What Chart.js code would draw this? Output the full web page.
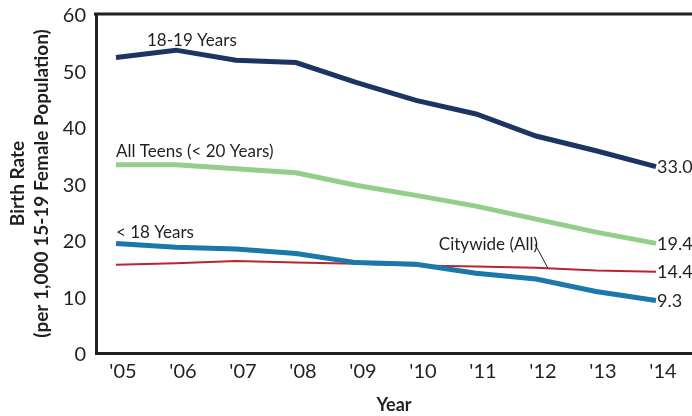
<!DOCTYPE html>
<html>
<head>
<meta charset="utf-8">
<script src="https://cdn.jsdelivr.net/npm/chart.js@4.4.7/dist/chart.umd.min.js"></script>
<style>
  html, body { margin: 0; padding: 0; background: #fff; }
  #wrap { width: 692px; height: 416px; position: relative; }
</style>
</head>
<body>
<div id="wrap"><canvas id="chart"></canvas></div>
<script>
// Teen birth rates per 1,000 females aged 15-19
const years = [2005, 2006, 2007, 2008, 2009, 2010, 2011, 2012, 2013, 2014];
const yTicks = [0, 10, 20, 30, 40, 50, 60];
const age1819 = [52.3, 53.6, 51.8, 51.4, 47.9, 44.7, 42.3, 38.4, 35.8, 33.0];
const allTeens = [33.3, 33.3, 32.6, 31.9, 29.7, 27.9, 26.0, 23.7, 21.4, 19.4];
const under18 = [19.4, 18.7, 18.4, 17.6, 16.0, 15.7, 14.1, 13.1, 10.9, 9.3];
const citywide = [15.6, 15.9, 16.3, 16.0, 15.8, 15.5, 15.3, 15.1, 14.6, 14.4];

const txt = '#231f20';
const fontFam = "Lato, 'Open Sans', sans-serif";

const toPts = arr => arr.map((v, i) => ({ x: years[i], y: v }));

// series name labels: [dataset index, point index, dx, dy, text]
const nameLabels = [
    [0, 0, 31, -17, '18-19 Years'],
    [1, 0, 0, -13, 'All Teens (< 20 Years)'],
    [2, 0, 0, -11, '< 18 Years'],
];

const annotate = {
    id: 'annotate',
    afterDraw(chart) {
        const ctx = chart.ctx;
        const area = chart.chartArea;
        const xs = chart.scales.x, ys = chart.scales.y;
        ctx.save();
        // top frame line
        ctx.fillStyle = '#231f20';
        ctx.fillRect(area.left - 2, area.top - 1.5, area.right - area.left + 2, 3);

        ctx.fillStyle = txt;
        ctx.font = '17px ' + fontFam;
        ctx.textBaseline = 'middle';
        ctx.textAlign = 'left';
        nameLabels.forEach(([d, i, dx, dy, t]) => {
            const data = chart.data.datasets[d].data;
            ctx.fillText(t, xs.getPixelForValue(data[i].x) + dx, ys.getPixelForValue(data[i].y) + dy);
        });

        // Citywide label with leader line
        const cx = xs.getPixelForValue(2012.2);
        const cy = ys.getPixelForValue(15.0);
        ctx.textAlign = 'right';
        ctx.fillText('Citywide (All)', cx - 10, cy - 24);
        ctx.strokeStyle = txt;
        ctx.lineWidth = 1;
        ctx.beginPath();
        ctx.moveTo(cx - 13, cy - 24);
        ctx.lineTo(cx, cy);
        ctx.stroke();

        // end values
        ctx.textAlign = 'left';
        ctx.font = '18px ' + fontFam;
        chart.data.datasets.forEach(ds => {
            const last = ds.data[ds.data.length - 1];
            ctx.fillText(last.y.toFixed(1), xs.getPixelForValue(last.x) + 1, ys.getPixelForValue(last.y) + 1);
        });
        ctx.restore();
    }
};

const lineDs = (label, arr, color, width) => ({
    label,
    data: toPts(arr),
    borderColor: color,
    backgroundColor: color,
    borderWidth: width,
    pointRadius: 0,
    tension: 0,
    borderCapStyle: 'butt',
    borderJoinStyle: 'miter'
});

new Chart(document.getElementById('chart'), {
    type: 'line',
    data: {
        datasets: [
            lineDs('18-19 Years', age1819, '#1b3461', 5),
            lineDs('All Teens (< 20 Years)', allTeens, '#93cf8a', 5),
            lineDs('< 18 Years', under18, '#1a78aa', 5),
            lineDs('Citywide (All)', citywide, '#b8262f', 2)
        ]
    },
    options: {
        responsive: true,
        maintainAspectRatio: false,
        animation: false,
        layout: { padding: { top: 14, right: 0, left: 0, bottom: 0 } },
        plugins: { legend: { display: false }, tooltip: { enabled: false } },
        scales: {
            x: {
                type: 'linear',
                min: 2004.667,
                max: 2014.6,
                afterBuildTicks: s => { s.ticks = years.map(v => ({ value: v })); },
                afterFit: s => { s.height = 63; s.paddingLeft = 0; s.paddingRight = 0; },
                grid: { display: false, drawTicks: false },
                border: { display: true, color: '#231f20', width: 3 },
                ticks: {
                    color: txt,
                    font: { family: fontFam, size: 20 },
                    padding: 7,
                    labelOffset: 7,
                    maxRotation: 0,
                    autoSkip: false,
                    callback: v => "'" + String(v).slice(2)
                },
                title: {
                    display: true,
                    text: 'Year',
                    color: txt,
                    font: { family: fontFam, size: 18, weight: 'bold' },
                    padding: { top: 10, bottom: 0 }
                }
            },
            y: {
                min: 0,
                max: 60,
                afterBuildTicks: s => { s.ticks = yTicks.map(v => ({ value: v })); },
                afterFit: s => { s.width = 96; s.paddingTop = 0; s.paddingBottom = 0; },
                grid: { display: false, drawTicks: false },
                border: { display: true, color: '#231f20', width: 3 },
                ticks: {
                    color: txt,
                    font: { family: fontFam, size: 20 },
                    padding: 10,
                    labelOffset: 2
                },
                title: {
                    display: true,
                    text: ['Birth Rate', '(per 1,000 15-19 Female Population)'],
                    color: txt,
                    font: { family: fontFam, size: 19, weight: 'bold', lineHeight: 1.25 },
                    padding: { top: 6, bottom: 0 }
                }
            }
        }
    },
    plugins: [annotate]
});
</script>
</body>
</html>
